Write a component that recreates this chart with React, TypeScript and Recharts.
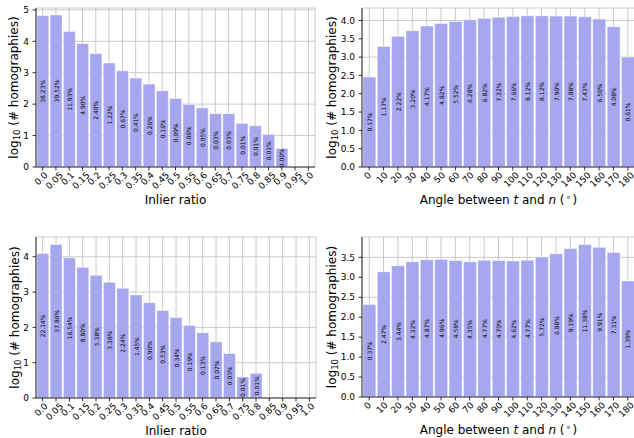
import { BarChart, Bar, XAxis, YAxis, CartesianGrid, LabelList } from "recharts";

const FONT = "'DejaVu Sans', sans-serif";
const BAR = "#a7a7ef";
const GRID = "#bcbcbc";

// categories
const ratioCats = [
  "0.0", "0.05", "0.1", "0.15", "0.2", "0.25", "0.3", "0.35", "0.4", "0.45", "0.5",
  "0.55", "0.6", "0.65", "0.7", "0.75", "0.8", "0.85", "0.9", "0.95", "1.0",
];
const angleCats = [
  "0", "10", "20", "30", "40", "50", "60", "70", "80", "90", "100",
  "110", "120", "130", "140", "150", "160", "170", "180",
];

// top row
const ratioLogA = [4.82, 4.84, 4.31, 3.93, 3.61, 3.31, 3.06, 2.83, 2.64, 2.43, 2.18, 1.99, 1.88, 1.7, 1.7, 1.39, 1.31, 1.04, 0.59, 0, 0];
const ratioPctA = ["38.23%", "39.52%", "11.93%", "4.90%", "2.40%", "1.22%", "0.67%", "0.41%", "0.26%", "0.16%", "0.09%", "0.06%", "0.05%", "0.03%", "0.03%", "0.01%", "0.01%", "0.01%", "0.00%", null, null];
const angleLogA = [2.46, 3.29, 3.57, 3.72, 3.85, 3.92, 3.97, 4.02, 4.06, 4.09, 4.11, 4.13, 4.13, 4.12, 4.12, 4.1, 4.04, 3.83, 3.0];
const anglePctA = ["0.17%", "1.17%", "2.22%", "3.20%", "4.17%", "4.82%", "5.52%", "6.28%", "6.82%", "7.32%", "7.66%", "8.12%", "8.12%", "7.90%", "7.88%", "7.43%", "6.50%", "4.08%", "0.61%"];

// bottom row
const ratioLogB = [4.09, 4.35, 3.97, 3.7, 3.48, 3.28, 3.11, 2.92, 2.7, 2.48, 2.28, 2.05, 1.85, 1.59, 1.26, 0.6, 0.7, 0, 0, 0, 0];
const ratioPctB = ["22.14%", "37.86%", "16.54%", "8.80%", "5.38%", "3.38%", "2.24%", "1.45%", "0.90%", "0.53%", "0.34%", "0.19%", "0.13%", "0.07%", "0.03%", "0.01%", "0.01%", null, null, null, null];
const angleLogB = [2.32, 3.14, 3.29, 3.39, 3.44, 3.45, 3.42, 3.39, 3.43, 3.42, 3.41, 3.43, 3.51, 3.59, 3.72, 3.82, 3.75, 3.62, 2.91];
const anglePctB = ["0.37%", "2.47%", "3.44%", "4.32%", "4.87%", "4.96%", "4.58%", "4.35%", "4.77%", "4.70%", "4.62%", "4.77%", "5.72%", "6.88%", "9.19%", "11.38%", "9.91%", "7.31%", "1.39%"];

const intTicks = (n: number) => Array.from({ length: n + 1 }, (_, i) => i);
const halfTicks = (n: number) => Array.from({ length: n + 1 }, (_, i) => i * 0.5);

function XTick({ x, y, payload }: any) {
  const s = String(payload.value);
  const fs = 9;
  let w = 0;
  for (const c of s) w += c === "." ? 0.318 : 0.636;
  w *= fs;
  const bh = (w + fs * 0.8) * 0.7071;
  const cx = Number(x) - 1.5;
  const cy = Number(y) + 0.5 + bh / 2;
  return (
    <text
      x={cx}
      y={cy}
      textAnchor="middle"
      dominantBaseline="central"
      transform={`rotate(-45 ${cx} ${cy})`}
      fontSize={fs}
      fontFamily={FONT}
      fill="#000"
    >
      {s}
    </text>
  );
}

function PctLabel(props: any) {
  const { x, y, width, height, value } = props;
  if (value == null) return null;
  const cx = Number(x) + Number(width) / 2;
  const cy = Number(y) + Number(height) / 2;
  return (
    <text
      x={cx}
      y={cy}
      textAnchor="middle"
      dominantBaseline="central"
      transform={`rotate(-90 ${cx} ${cy})`}
      fontSize={6}
      fontFamily={FONT}
      fill="#000"
    >
      {value}
    </text>
  );
}

const ratioTitle = <tspan>Inlier ratio</tspan>;
const angleTitle = (
  <>
    <tspan>Angle between </tspan>
    <tspan fontStyle="italic">t</tspan>
    <tspan> and </tspan>
    <tspan fontStyle="italic">n</tspan>
    <tspan> (</tspan>
    <tspan fontSize={8} dx={1.5} dy={-4}>∘</tspan>
    <tspan dx={1.5} dy={4}>)</tspan>
  </>
);

function Panel(props: any) {
  const { cats, logs, pcts, left, top, w, h, margin, yWidth, xHeight, yMax, yTicks, yFmt, yTitleX, xTitle } = props;
  const data = cats.map((c: string, i: number) => ({ cat: c, v: logs[i], p: pcts[i] }));
  const plotLeft = yWidth + (margin.left || 0);
  const plotRight = w - margin.right;
  const plotBottom = h - xHeight;
  const plotTop = margin.top;
  const midX = (plotLeft + plotRight) / 2;
  const midY = (plotTop + plotBottom) / 2;
  const line = { stroke: "#000", strokeWidth: 0.8 };

  return (
    <div style={{ position: "absolute", left, top }}>
      <BarChart width={w} height={h} data={data} margin={margin} barCategoryGap="6%">
        <CartesianGrid stroke={GRID} strokeWidth={0.8} />
        <XAxis
          dataKey="cat"
          interval={0}
          tick={<XTick />}
          tickSize={3.5}
          tickMargin={0}
          height={xHeight}
          axisLine={line}
          tickLine={line}
          label={() => (
            <text x={midX} y={plotBottom + 36.5} textAnchor="middle" fontSize={12} fontFamily={FONT} fill="#000">
              {xTitle}
            </text>
          )}
        />
        <XAxis xAxisId="top" orientation="top" dataKey="cat" height={0} tick={false} tickLine={false} axisLine={line} />
        <YAxis
          type="number"
          domain={[0, yMax]}
          ticks={yTicks}
          tickFormatter={yFmt}
          width={yWidth}
          tickSize={3.5}
          tickMargin={3.5}
          axisLine={line}
          tickLine={line}
          tick={{ fontSize: 9, fill: "#000", fontFamily: FONT }}
          label={() => (
            <text
              x={yTitleX}
              y={midY}
              textAnchor="middle"
              dominantBaseline="central"
              transform={`rotate(-90 ${yTitleX} ${midY})`}
              fontSize={12}
              fontFamily={FONT}
              fill="#000"
            >
              log<tspan fontSize={8.5} dy={3}>10</tspan>
              <tspan dy={-3}> (# homographies)</tspan>
            </text>
          )}
        />
        <YAxis yAxisId="r" orientation="right" domain={[0, yMax]} width={0} tick={false} tickLine={false} axisLine={line} />
        <Bar dataKey="v" fill={BAR} stroke="#ffffff" strokeOpacity={0.5} strokeWidth={1} isAnimationActive={false}>
          <LabelList dataKey="p" content={PctLabel} />
        </Bar>
      </BarChart>
    </div>
  );
}

const fmtInt = (v: number) => String(v);
const fmtHalf = (v: number) => v.toFixed(1);

export default function App() {
  return (
    <div
      style={{
        position: "absolute",
        left: 0,
        top: 0,
        width: 634,
        height: 438,
        overflow: "hidden",
        background: "#fff",
      }}
    >
      <Panel
        cats={ratioCats} logs={ratioLogA} pcts={ratioPctA}
        left={0} top={0} w={320} h={218}
        margin={{ top: 8, right: 5, left: 0, bottom: 0 }}
        yWidth={36} xHeight={51} yMax={5.06} yTicks={intTicks(5)} yFmt={fmtInt}
        yTitleX={14} xTitle={ratioTitle}
      />
      <Panel
        cats={angleCats} logs={angleLogA} pcts={anglePctA}
        left={314} top={0} w={325} h={218}
        margin={{ top: 8, right: 4, left: 0, bottom: 0 }}
        yWidth={48} xHeight={51} yMax={4.34} yTicks={halfTicks(8)} yFmt={fmtHalf}
        yTitleX={18} xTitle={angleTitle}
      />
      <Panel
        cats={ratioCats} logs={ratioLogB} pcts={ratioPctB}
        left={0} top={218} w={320} h={220}
        margin={{ top: 19, right: 4, left: 0, bottom: 0 }}
        yWidth={36} xHeight={40} yMax={4.56} yTicks={intTicks(4)} yFmt={fmtInt}
        yTitleX={15} xTitle={ratioTitle}
      />
      <Panel
        cats={angleCats} logs={angleLogB} pcts={anglePctB}
        left={314} top={218} w={325} h={220}
        margin={{ top: 19, right: 4, left: 0, bottom: 0 }}
        yWidth={48} xHeight={41} yMax={4.01} yTicks={halfTicks(7)} yFmt={fmtHalf}
        yTitleX={18} xTitle={angleTitle}
      />
    </div>
  );
}
